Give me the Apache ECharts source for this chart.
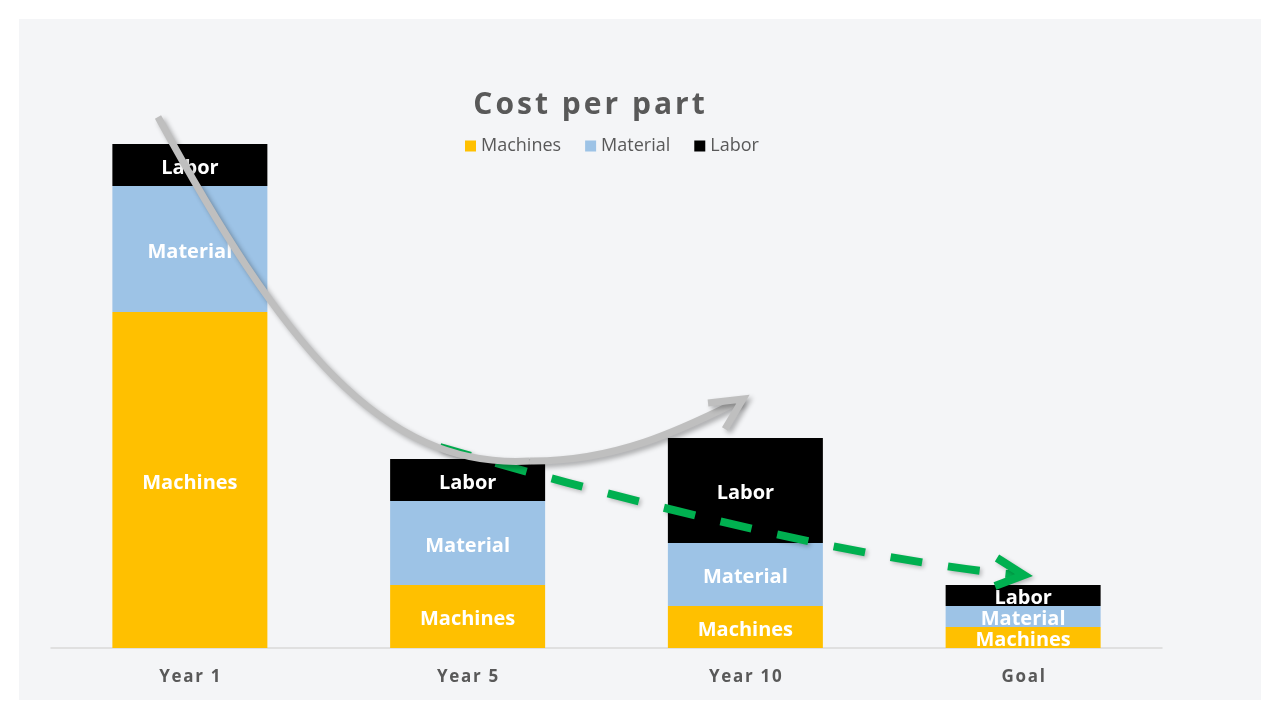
<!DOCTYPE html>
<html><head><meta charset="utf-8">
<script src="https://cdn.jsdelivr.net/npm/echarts@6/dist/echarts.min.js"></script>
<style>html,body{margin:0;padding:0;background:#fff;}#c{width:1280px;height:720px;}</style>
</head><body><div id="c"></div>
<script>
var categories = ['Year 1', 'Year 5', 'Year 10', 'Goal'];
var machines = [16, 3, 2, 1];
var material = [6, 4, 3, 1];
var labor = [2, 2, 5, 1];
var seriesNames = ['Machines', 'Material', 'Labor'];
var colors = ['#FFC000', '#9DC3E6', '#000000'];

function spaced(s) { return s.split('').join('\u200A'); }

var chart = echarts.init(document.getElementById('c'));
function mk(name, data, color) {
  return {
    name: name, type: 'bar', stack: 'cost', data: data, barWidth: 155,
    itemStyle: { color: color },
    label: { show: true, position: 'inside', offset: [0, 3], formatter: name, color: '#fff',
      fontFamily: 'Open Sans', fontWeight: 'bold', fontSize: 20 }
  };
}
var sh = { shadowColor: 'rgba(0,0,0,0.3)', shadowBlur: 5, shadowOffsetX: 3, shadowOffsetY: 3 };
var shg = { shadowColor: 'rgba(0,0,0,0.25)', shadowBlur: 4, shadowOffsetX: 2, shadowOffsetY: 2 };
chart.setOption({
  backgroundColor: '#ffffff',
  animation: false,
  title: { text: spaced('Cost per part'), left: 584, textAlign: 'center', top: 85,
    textStyle: { fontFamily: 'Open Sans', fontWeight: 'bold', fontSize: 30, color: '#595959' } },
  legend: { data: seriesNames, top: 132, left: 460, itemWidth: 11, itemHeight: 11, itemGap: 24,
    icon: 'rect',
    textStyle: { fontFamily: 'Open Sans', fontSize: 18, color: '#595959' } },
  grid: { left: 51, right: 118, top: 144, bottom: 72 },
  xAxis: { type: 'category', data: categories,
    axisLine: { lineStyle: { color: '#d9d9d9', width: 1.5 } }, axisTick: { show: false },
    axisLabel: { margin: 21, color: '#595959', fontFamily: 'Open Sans', fontWeight: 'bold', fontSize: 17,
      formatter: function (v) { return spaced(v); } } },
  yAxis: { type: 'value', min: 0, max: 24, show: false, splitLine: { show: false } },
  graphic: [
    { type: 'rect', z: -10, shape: { x: 19, y: 19, width: 1242, height: 681 }, style: { fill: '#f4f5f7' } },
    { type: 'bezierCurve', z: 100, shape: { x1: 440, y1: 447, cpx1: 640, cpy1: 505, cpx2: 860, cpy2: 560, x2: 1018, y2: 575 },
      style: Object.assign({ stroke: '#00B050', lineWidth: 8, fill: null, lineDash: [32, 26] }, shg) },
    { type: 'polyline', z: 100, shape: { points: [[997, 558], [1024, 575], [995, 586]] },
      style: Object.assign({ stroke: '#00B050', lineWidth: 8, fill: null }, shg) },
    { type: 'bezierCurve', z: 101, shape: { x1: 158, y1: 117, cpx1: 280, cpy1: 340, cpx2: 380, cpy2: 470, x2: 530, y2: 461 },
      style: Object.assign({ stroke: '#BFBFBF', lineWidth: 7, fill: null }, sh) },
    { type: 'bezierCurve', z: 101, shape: { x1: 530, y1: 461, cpx1: 620, cpy1: 462, cpx2: 690, cpy2: 425, x2: 741, y2: 400 },
      style: Object.assign({ stroke: '#BFBFBF', lineWidth: 7, fill: null }, sh) },
    { type: 'polyline', z: 101, shape: { points: [[708, 403], [743, 399], [725, 429]] },
      style: Object.assign({ stroke: '#BFBFBF', lineWidth: 7, fill: null, lineJoin: 'miter' }, sh) }
  ],
  series: [mk('Machines', machines, colors[0]), mk('Material', material, colors[1]), mk('Labor', labor, colors[2])]
});
</script></body></html>
